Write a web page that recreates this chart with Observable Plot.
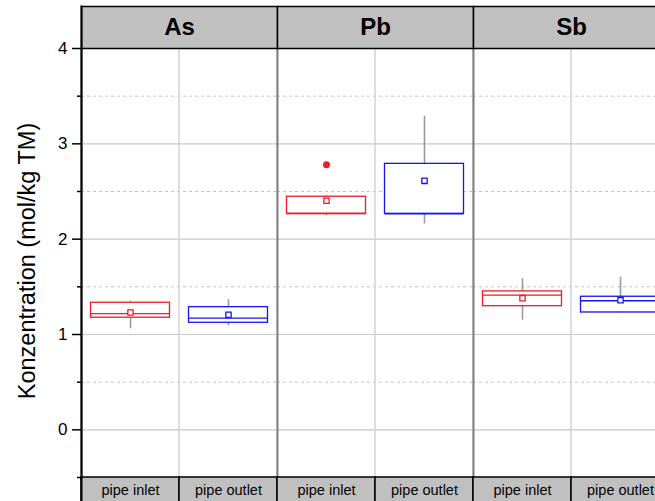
<!DOCTYPE html>
<html>
<head>
<meta charset="utf-8">
<script src="https://cdn.jsdelivr.net/npm/d3@7"></script>
<script src="https://cdn.jsdelivr.net/npm/@observablehq/plot@0.6"></script>
<style>
  html, body { margin: 0; padding: 0; overflow: hidden; background: #fff; }
  #chart svg { display: block; max-width: none !important; }
</style>
</head>
<body>
<div id="chart"></div>
<script>
// Facets (elements) and categories (sampling sites)
const elements = ["As", "Pb", "Sb"];
const sites = ["pipe inlet", "pipe outlet"];
const yLabel = "Konzentration (mol/kg TM)";
const majorTicks = [0, 1, 2, 3, 4];
const minorTicks = [-0.5, 0.5, 1.5, 2.5, 3.5];

// Box summaries, one entry per element × site
const rowElement = ["As", "As", "Pb", "Pb", "Sb", "Sb"];
const rowSite = ["pipe inlet", "pipe outlet", "pipe inlet", "pipe outlet", "pipe inlet", "pipe outlet"];
const whiskerLow  = [1.06, 1.09, 2.245, 2.16, 1.15, 1.225];
const q1          = [1.176, 1.123, 2.262, 2.266, 1.297, 1.231];
const median      = [1.218, 1.171, 2.272, 2.266, 1.413, 1.354];
const q3          = [1.333, 1.287, 2.445, 2.79, 1.452, 1.396];
const whiskerHigh = [1.35, 1.365, 2.455, 3.29, 1.585, 1.60];
const mean        = [1.231, 1.207, 2.403, 2.612, 1.381, 1.36];

// Outliers
const outlierElement = ["Pb"];
const outlierSite = ["pipe inlet"];
const outlierValue = [2.78];

const rows = rowElement.map((e, i) => ({
  element: e, site: rowSite[i],
  low: whiskerLow[i], q1: q1[i], median: median[i], q3: q3[i], high: whiskerHigh[i], mean: mean[i]
}));
const outliers = outlierElement.map((e, i) => ({element: e, site: outlierSite[i], value: outlierValue[i]}));

// Layout
const width = 670, height = 503;
const marginTop = 48, marginBottom = 26, marginLeft = 81, marginRight = 1;
const plotH = height - marginTop - marginBottom;
const headerH = 42;
const boxInset = 9.5;

const chart = Plot.plot({
  width, height, marginTop, marginBottom, marginLeft, marginRight,
  style: {fontFamily: "'Liberation Sans', Arial, sans-serif", fontSize: "16px", background: "white", color: "black"},
  fx: {domain: elements, padding: 0, axis: null},
  x: {domain: sites, padding: 0, axis: null},
  y: {domain: [-0.5, 4], nice: false},
  color: {domain: sites, range: ["#ec1c24", "#1414f5"]},
  marks: [
    // grid
    Plot.gridY(majorTicks, {stroke: "#c8c8c8", strokeOpacity: 1, strokeWidth: 1.2}),
    Plot.gridY(minorTicks.filter(t => t > -0.5), {stroke: "#c4c4c4", strokeOpacity: 1, strokeWidth: 1, strokeDasharray: "3,3"}),
    Plot.cell(["pipe outlet"], {x: d => d, fill: "none", stroke: "#d4d4d4", strokeWidth: 1.5, inset: 0}),
    // whiskers
    Plot.ruleX(rows, {x: "site", fx: "element", y1: "low", y2: "q1", stroke: "#9a9a9a", strokeWidth: 1.6}),
    Plot.ruleX(rows, {x: "site", fx: "element", y1: "q3", y2: "high", stroke: "#9a9a9a", strokeWidth: 1.6}),
    // boxes
    Plot.barY(rows, {x: "site", fx: "element", y1: "q1", y2: "q3", fill: "white", stroke: "site", strokeWidth: 1.3, insetLeft: boxInset, insetRight: boxInset}),
    Plot.tickY(rows, {x: "site", fx: "element", y: "median", stroke: "site", strokeWidth: 1.3, insetLeft: boxInset, insetRight: boxInset}),
    Plot.dot(rows, {x: "site", fx: "element", y: "mean", symbol: "square", r: 3, fill: "white", stroke: "site", strokeWidth: 1.3}),
    Plot.dot(outliers, {x: "site", fx: "element", y: "value", r: 3.5, fill: "site", stroke: "none"}),
    // facet separators
    Plot.frame({anchor: "left", stroke: "#7f7f7f", strokeWidth: 2}),
    // facet headers
    Plot.frame({fill: "#c0c0c0", stroke: "black", strokeWidth: 1.5, insetTop: -headerH, insetBottom: plotH}),
    Plot.text(elements, {fx: d => d, text: d => d, frameAnchor: "top", lineAnchor: "middle", dy: -headerH / 2, fontSize: 24, fontWeight: "bold", fill: "black"}),
    // category strip
    Plot.cell(sites, {x: d => d, fill: "#c0c0c0", stroke: "black", strokeWidth: 1.5, inset: 0, insetTop: plotH, insetBottom: -marginBottom}),
    Plot.text(sites, {x: d => d, text: d => d, frameAnchor: "bottom", lineAnchor: "middle", dy: 13, fontSize: 14.5, fill: "black"}),
    // y axis
    Plot.frame({anchor: "left", stroke: "black", strokeWidth: 2, insetTop: -headerH, insetBottom: -marginBottom, facetAnchor: "left"}),
    Plot.axisY(majorTicks, {tickSize: 9, tickPadding: 5, fontSize: 17, strokeWidth: 1.5, tickFormat: d3.format("d"), label: null}),
    Plot.axisY(minorTicks, {tickSize: 4, strokeWidth: 1.5, fill: "none", label: null}),
    Plot.text([yLabel], {fx: () => "As", text: d => d, frameAnchor: "left", textAnchor: "middle", lineAnchor: "middle", rotate: -90, dx: -54, dy: -2, fontSize: 23.5, fill: "black"})
  ]
});
chart.style.maxWidth = "none";
document.getElementById("chart").appendChild(chart);
</script>
</body>
</html>
